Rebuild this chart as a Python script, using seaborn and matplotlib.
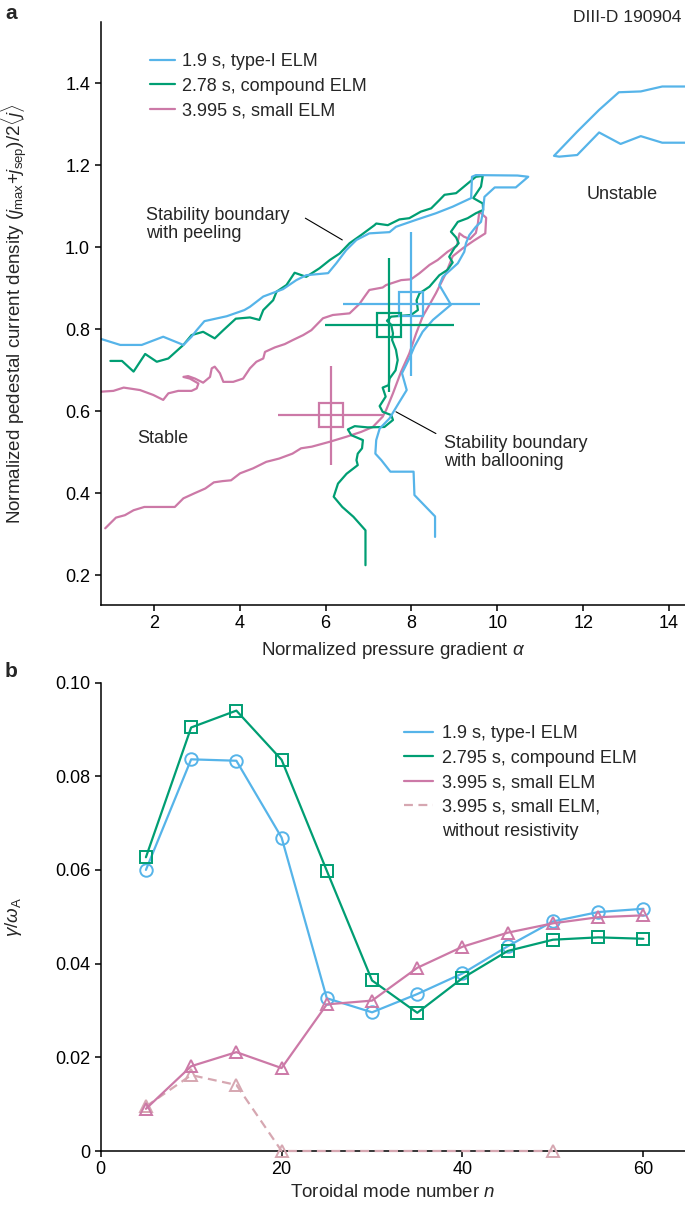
import numpy as np
import pandas as pd
import seaborn as sns
import matplotlib.pyplot as plt
from matplotlib.lines import Line2D

# colours for the three discharge times
c_blue = "#56B4E9"
c_green = "#009E73"
c_pink = "#CC79A7"
c_dash = "#D6A7B1"

# ---- panel a : stability boundaries (alpha, j) ----
blue_x = [0.76, 1.22, 1.72, 2.22, 2.69, 2.88, 3.0, 3.18, 3.70, 4.11, 4.24, 4.55, 5.01, 5.32, 5.55,
          6.06, 6.25, 6.48, 6.72, 7.02, 7.49, 7.64, 8.11, 8.57, 8.96, 9.39, 9.41, 9.50, 10.47, 10.72,
          10.43, 9.94, 9.70, 9.66, 9.62, 9.50, 9.35, 9.27, 9.23, 9.08, 8.73, 8.65, 8.92, 8.50, 8.26,
          8.07, 7.95, 7.78, 7.89, 7.72, 7.49, 7.26, 7.18, 7.16, 7.30, 7.51, 8.05, 8.07, 8.55, 8.55]
blue_y = [0.777, 0.762, 0.762, 0.782, 0.762, 0.782, 0.798, 0.82, 0.832, 0.847, 0.855, 0.88, 0.898, 0.92, 0.932,
          0.937, 0.961, 0.993, 1.018, 1.034, 1.037, 1.05, 1.067, 1.083, 1.099, 1.12, 1.172, 1.176, 1.175, 1.172,
          1.146, 1.146, 1.123, 1.083, 1.062, 1.05, 1.03, 1.01, 0.989, 0.961, 0.928, 0.908, 0.86, 0.823, 0.794,
          0.758, 0.729, 0.693, 0.652, 0.623, 0.583, 0.558, 0.530, 0.497, 0.481, 0.453, 0.453, 0.396, 0.344, 0.294]

blue_top_x = [14.4, 13.84, 13.34, 12.83, 12.37, 11.86, 11.32, 11.44, 11.86, 12.37, 12.87, 13.34, 13.84, 14.4]
blue_top_y = [1.392, 1.392, 1.38, 1.378, 1.335, 1.282, 1.223, 1.221, 1.225, 1.28, 1.252, 1.271, 1.255, 1.255]

green_x = [0.99, 1.26, 1.53, 1.80, 2.07, 2.34, 2.69, 2.88, 3.15, 3.42, 3.62, 3.91, 4.24, 4.46, 4.55, 4.78,
           4.86, 5.09, 5.28, 5.55, 5.86, 6.10, 6.33, 6.56, 6.83, 7.14, 7.18, 7.45, 7.72, 7.95, 8.22, 8.46,
           8.65, 8.77, 9.04, 9.27, 9.50, 9.66, 9.62, 9.44, 9.66, 9.67, 9.50, 9.31, 9.08, 8.92, 9.04, 9.10,
           9.0, 8.88, 8.96, 8.84, 8.65, 8.42, 8.19, 8.12, 8.15, 7.99, 7.76, 7.53, 7.43, 7.53, 7.57, 7.55,
           7.64, 7.68, 7.63, 7.49, 7.47, 7.33, 7.40, 7.26, 7.33, 7.53, 7.57, 7.37, 6.98, 6.68, 6.52, 6.60,
           6.87, 6.85, 6.75, 6.72, 6.75, 6.49, 6.29, 6.19, 6.39, 6.65, 6.93, 6.93]
green_y = [0.723, 0.723, 0.697, 0.740, 0.721, 0.729, 0.762, 0.786, 0.794, 0.778, 0.798, 0.826, 0.829, 0.823, 0.847, 0.871,
           0.892, 0.908, 0.938, 0.928, 0.949, 0.969, 0.985, 1.01, 1.03, 1.054, 1.058, 1.054, 1.068, 1.071, 1.087, 1.095,
           1.115, 1.128, 1.132, 1.152, 1.172, 1.174, 1.148, 1.12, 1.107, 1.091, 1.083, 1.071, 1.062, 1.038, 1.024, 1.01,
           0.998, 0.977, 0.963, 0.945, 0.932, 0.904, 0.888, 0.871, 0.847, 0.835, 0.833, 0.831, 0.821, 0.811, 0.79, 0.774,
           0.75, 0.725, 0.70, 0.68, 0.664, 0.658, 0.636, 0.613, 0.599, 0.591, 0.579, 0.562, 0.561, 0.564, 0.556, 0.542,
           0.53, 0.51, 0.497, 0.481, 0.469, 0.448, 0.424, 0.392, 0.367, 0.343, 0.31, 0.225]

pink_x = [0.77, 1.06, 1.30, 1.68, 1.99, 2.22, 2.34, 2.57, 2.88, 3.0, 3.04, 2.84, 2.69, 2.80, 2.96, 3.15,
          3.31, 3.35, 3.42, 3.54, 3.62, 3.85, 4.08, 4.24, 4.39, 4.55, 4.59, 4.82, 5.05, 5.24, 5.48, 5.67,
          5.94, 6.17, 6.56, 6.72, 6.79, 6.91, 7.02, 7.33, 7.41, 7.76, 7.99, 8.19, 8.42, 8.61, 8.84, 9.06,
          9.12, 9.22, 9.36, 9.50, 9.55, 9.58, 9.74, 9.72, 9.45, 9.20, 8.96, 8.80, 8.57, 8.42, 8.26, 8.11,
          7.95, 7.76, 7.57, 7.41, 7.33, 7.10, 6.83, 6.48, 6.10, 5.68, 5.43, 5.23, 4.92, 4.62, 4.31, 4.01,
          3.80, 3.60, 3.40, 3.20, 2.94, 2.69, 2.49, 1.78, 1.53, 1.33, 1.12, 0.87]
pink_y = [0.648, 0.65, 0.658, 0.652, 0.64, 0.628, 0.644, 0.65, 0.65, 0.656, 0.668, 0.68, 0.684, 0.686, 0.68, 0.67,
          0.684, 0.705, 0.709, 0.693, 0.672, 0.672, 0.68, 0.705, 0.721, 0.729, 0.745, 0.756, 0.764, 0.774, 0.786, 0.798,
          0.827, 0.835, 0.839, 0.855, 0.862, 0.88, 0.896, 0.902, 0.908, 0.92, 0.922, 0.937, 0.957, 0.969, 0.989, 1.004,
          1.034, 1.026, 1.02, 1.035, 1.06, 1.087, 1.072, 1.034, 1.016, 0.998, 0.978, 0.936, 0.888, 0.86, 0.831, 0.79,
          0.741, 0.697, 0.644, 0.603, 0.587, 0.562, 0.55, 0.538, 0.526, 0.514, 0.51, 0.497, 0.485, 0.477, 0.461, 0.449,
          0.432, 0.43, 0.427, 0.412, 0.40, 0.388, 0.367, 0.367, 0.359, 0.347, 0.341, 0.315]

# experimental points with error bars (blue, green, pink)
exp_x = [8.0, 7.48, 6.13]
exp_y = [0.862, 0.811, 0.59]
exp_xerr = [1.6, 1.5, 1.24]
exp_yerr = [0.176, 0.164, 0.12]
exp_col = [c_blue, c_green, c_pink]

# ---- panel b : growth rates ----
n_modes = [5, 10, 15, 20, 25, 30, 35, 40, 45, 50, 55, 60]
g_type1 = [0.0600, 0.0836, 0.0833, 0.0669, 0.0326, 0.0296, 0.0335, 0.0379, 0.0437, 0.0490, 0.0510, 0.0517]
g_compound = [0.0627, 0.0904, 0.0940, 0.0835, 0.0598, 0.0364, 0.0295, 0.0369, 0.0427, 0.0451, 0.0456, 0.0453]
g_small = [0.0090, 0.0181, 0.0211, 0.0177, 0.0313, 0.0321, 0.0391, 0.0436, 0.0466, 0.0486, 0.0499, 0.0503]
n_nores = [5, 10, 15, 20, 50]
g_nores = [0.0095, 0.0162, 0.0141, 0.0, 0.0]

sns.set_theme(style="ticks")
plt.rcParams["font.family"] = ["Liberation Sans", "DejaVu Sans"]
plt.rcParams.update({
    "mathtext.fontset": "custom",
    "mathtext.rm": "Liberation Sans",
    "mathtext.it": "Liberation Sans:italic",
    "font.size": 13,
    "legend.fontsize": 13,
    "axes.linewidth": 1.1,
    "xtick.major.width": 1.1,
    "ytick.major.width": 1.1,
    "xtick.major.size": 4.5,
    "ytick.major.size": 4.5,
    "xtick.major.pad": 3,
    "ytick.major.pad": 3,
    "xtick.labelsize": 13,
    "ytick.labelsize": 13,
    "axes.labelsize": 13.5,
    "axes.edgecolor": "black",
    "xtick.color": "black",
    "ytick.color": "black",
})

W, H = 685, 1206
fig = plt.figure(figsize=(W / 100, H / 100), dpi=100)
ax_a = fig.add_axes([100.5 / W, 1 - 605 / H, (W - 100.5) / W, (605 - 21.7) / H])
ax_b = fig.add_axes([100.7 / W, 1 - 1151 / H, (W - 100.7) / W, (1151 - 682.5) / H])

lw = 1.6
for xs, ys, col in [(pink_x, pink_y, c_pink), (green_x, green_y, c_green),
                    (blue_x, blue_y, c_blue), (blue_top_x, blue_top_y, c_blue)]:
    sns.lineplot(x=xs, y=ys, sort=False, estimator=None, color=col, lw=lw, ax=ax_a)

for x, y, xe, ye, col in zip(exp_x, exp_y, exp_xerr, exp_yerr, exp_col):
    ax_a.errorbar(x, y, xerr=xe, yerr=ye, fmt="s", ms=17, mfc="none", mec=col, mew=lw,
                  ecolor=col, elinewidth=lw, capsize=0)

ax_a.set_xlim(0.76, 14.37)
ax_a.set_ylim(0.128, 1.55)
ax_a.set_xticks(range(2, 15, 2))
ax_a.set_yticks([0.2, 0.4, 0.6, 0.8, 1.0, 1.2, 1.4])
sns.despine(ax=ax_a)
ax_a.set_xlabel(r"Normalized pressure gradient $\alpha$")
ax_a.xaxis.set_label_coords(0.5, -(640 - 605) / 583)
ax_a.set_ylabel(r"Normalized pedestal current density ($j_{\rm max}$+$j_{\rm sep}$)/2$\langle j\rangle$")
ax_a.yaxis.set_label_coords(-(100.5 - 29) / 584.5, 0.5)

ax_a.text(12.9, 1.129, "Unstable", ha="center", va="center")
ax_a.text(2.22, 0.534, "Stable", ha="center", va="center")
ax_a.text(1.83, 1.056, "Stability boundary\nwith peeling", ha="left", va="center", linespacing=1.1)
ax_a.text(8.75, 0.50, "Stability boundary\nwith ballooning", ha="left", va="center", linespacing=1.1)
ax_a.plot([5.53, 6.39], [1.071, 1.018], color="black", lw=0.8)
ax_a.plot([7.64, 8.57], [0.599, 0.546], color="black", lw=0.8)

handles_a = [Line2D([], [], color=c, lw=lw) for c in (c_blue, c_green, c_pink)]
ax_a.legend(handles_a, ["1.9 s, type-I ELM", "2.78 s, compound ELM", "3.995 s, small ELM"],
            loc="upper left", bbox_to_anchor=(150 / W, 1 - 53 / H), bbox_transform=fig.transFigure,
            frameon=False, borderpad=0, borderaxespad=0, handlelength=1.4, handletextpad=0.35,
            labelspacing=0.42)

# ---- panel b ----
sns.lineplot(x=n_nores, y=g_nores, color=c_dash, lw=lw, dashes=False, marker="^", ms=9,
             mfc="none", mec=c_dash, mew=1.4, linestyle=(0, (4, 2.5)), ax=ax_b, clip_on=False,
             zorder=3)
sns.lineplot(x=n_modes, y=g_type1, color=c_blue, lw=lw, marker="o", ms=9,
             mfc="none", mec=c_blue, mew=1.4, ax=ax_b, clip_on=False, zorder=3)
sns.lineplot(x=n_modes, y=g_compound, color=c_green, lw=lw, marker="s", ms=8.5,
             mfc="none", mec=c_green, mew=1.4, ax=ax_b, clip_on=False, zorder=3)
sns.lineplot(x=n_modes, y=g_small, color=c_pink, lw=lw, marker="^", ms=9,
             mfc="none", mec=c_pink, mew=1.4, ax=ax_b, clip_on=False, zorder=3)

ax_b.set_xlim(0, 64.6)
ax_b.set_ylim(0, 0.10)
ax_b.set_xticks([0, 20, 40, 60])
ax_b.set_yticks([0, 0.02, 0.04, 0.06, 0.08, 0.10])
ax_b.set_yticklabels(["0", "0.02", "0.04", "0.06", "0.08", "0.10"])
sns.despine(ax=ax_b)
ax_b.set_xlabel(r"Toroidal mode number $n$")
ax_b.xaxis.set_label_coords(0.5, -(1184 - 1151) / 468.5)
ax_b.set_ylabel(r"$\gamma/\omega_{\rm A}$")
ax_b.yaxis.set_label_coords(-(100.7 - 24) / 584.3, 0.5)

handles_b = [Line2D([], [], color=c_blue, lw=lw), Line2D([], [], color=c_green, lw=lw),
             Line2D([], [], color=c_pink, lw=lw), Line2D([], [], color=c_dash, lw=lw, ls=(0, (4, 2.5))),
             Line2D([], [], color="none", lw=lw)]
ax_b.legend(handles_b, ["1.9 s, type-I ELM", "2.795 s, compound ELM", "3.995 s, small ELM",
                        "3.995 s, small ELM,", "without resistivity"],
            loc="upper left", bbox_to_anchor=(404 / W, 1 - 725 / H), bbox_transform=fig.transFigure,
            frameon=False, borderpad=0, borderaxespad=0, handlelength=1.6, handletextpad=0.5,
            labelspacing=0.42)

fig.text(5 / W, 1 - 4 / H, "a", weight="bold", fontsize=15, va="top", ha="left")
fig.text(5 / W, 1 - 662 / H, "b", weight="bold", fontsize=15, va="top", ha="left")
fig.text(681 / W, 1 - 18 / H, "DIII-D 190904", ha="right", va="center", fontsize=12.5)

fig.savefig("out.png", dpi=100)
